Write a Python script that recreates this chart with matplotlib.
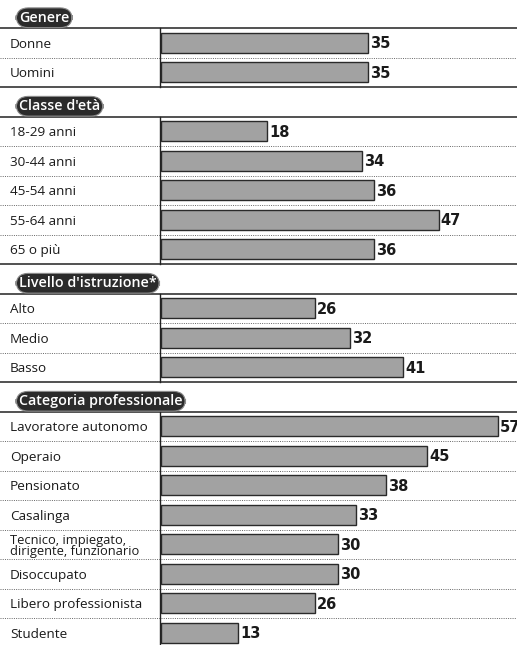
import matplotlib
matplotlib.use('Agg')
import matplotlib.pyplot as plt

# Data: share (%) by group
groups = ["Genere", "Classe d'età", "Livello d'istruzione*", "Categoria professionale"]
labels_genere = ["Donne", "Uomini"]
values_genere = [35, 35]
labels_eta = ["18-29 anni", "30-44 anni", "45-54 anni", "55-64 anni", "65 o più"]
values_eta = [18, 34, 36, 47, 36]
labels_istr = ["Alto", "Medio", "Basso"]
values_istr = [26, 32, 41]
labels_prof = ["Lavoratore autonomo", "Operaio", "Pensionato", "Casalinga",
               "Tecnico, impiegato,\ndirigente, funzionario", "Disoccupato",
               "Libero professionista", "Studente"]
values_prof = [57, 45, 38, 33, 30, 30, 26, 13]

sections = [(groups[0], labels_genere, values_genere),
            (groups[1], labels_eta, values_eta),
            (groups[2], labels_istr, values_istr),
            (groups[3], labels_prof, values_prof)]

W, H = 517, 645
x0 = 161          # pixel where the value axis starts
px_per_unit = 5.91
row = 29.5

fig = plt.figure(figsize=(W / 100, H / 100), dpi=100)
ax = fig.add_axes([0, 0, 1, 1])
ax.set_xlim(-x0 / px_per_unit, (W - x0) / px_per_unit)
ax.set_ylim(H, 0)
ax.axis('off')

xmin, xmax = ax.get_xlim()
label_x = xmin + 10 / px_per_unit
sep_x = -1 / px_per_unit
font = 'Open Sans'

y = -1.5
for title, labels, values in sections:
    # header pill
    hy = y + row / 2 + 4.5
    ax.text(xmin + 19 / px_per_unit, hy, title, fontsize=10.3, color='white',
            fontweight='semibold', family=font, va='center', ha='left', zorder=5,
            bbox=dict(boxstyle='round,pad=0.2,rounding_size=0.85', fc='#2b2b2b',
                      ec='#8a8a8a', lw=0.8))
    y += row
    top = y
    ax.plot([xmin, xmax], [top, top], color='#222222', lw=1.1, zorder=3)
    n = len(labels)
    centers = [top + row * (i + 0.5) for i in range(n)]
    ax.barh(centers, values, height=20, left=0, color='#a2a2a2', edgecolor='#2a2a2a',
            linewidth=1.0, zorder=2)
    for c, lab, v in zip(centers, labels, values):
        two = '\n' in lab
        ax.text(label_x, c + 1.5, lab, fontsize=9.7 if not two else 9.3,
                family=font, va='center', ha='left', color='#1a1a1a',
                linespacing=0.8)
        ax.text(v + 2 / px_per_unit, c + 1, str(v), fontsize=10.5, fontweight='bold',
                family='DejaVu Sans', va='center', ha='left', color='#1a1a1a')
    for i in range(1, n):
        yy = top + row * i
        ax.plot([xmin, xmax], [yy, yy], color='#666666', lw=0.7,
                linestyle=(0, (1, 1.3)), zorder=1)
    bottom = top + row * n
    ax.plot([xmin, xmax], [bottom, bottom], color='#222222', lw=1.1, zorder=3)
    ax.plot([sep_x, sep_x], [top, bottom], color='#222222', lw=1.0, zorder=3)
    y = bottom

fig.savefig('out.png', dpi=100)
